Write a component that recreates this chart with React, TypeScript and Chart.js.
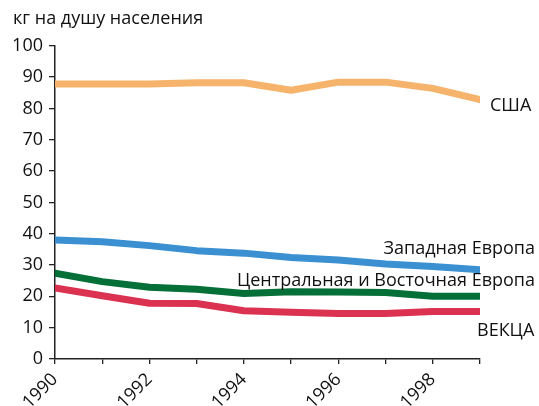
import React, { useEffect, useRef } from "react";
import { Chart, registerables } from "chart.js";

Chart.register(...registerables);

const years = [1990, 1991, 1992, 1993, 1994, 1995, 1996, 1997, 1998, 1999];
const usa = [87.8, 87.8, 87.8, 88.2, 88.2, 85.8, 88.4, 88.4, 86.4, 82.8];
const westEurope = [38.0, 37.4, 36.2, 34.6, 33.8, 32.4, 31.6, 30.3, 29.5, 28.5];
const ceEurope = [27.4, 24.7, 22.9, 22.3, 20.9, 21.5, 21.4, 21.2, 20.0, 20.0];
const eeccaa = [22.7, 20.2, 17.8, 17.7, 15.4, 14.9, 14.5, 14.5, 15.2, 15.2];
const seriesNames = ["США", "Западная Европа", "Центральная и Восточная Европа", "ВЕКЦА"];
const colors = ["#F6B36C", "#3A90D1", "#056F38", "#DC3251"];
const yTitle = "кг на душу населения";

const FONT = "'Open Sans', 'Noto Sans', sans-serif";

export default function App() {
  const ref = useRef<HTMLCanvasElement>(null);
  useEffect(() => {
    document.body.style.margin = "0";
    const all = [usa, westEurope, ceEurope, eeccaa];
    const labelPlugin = {
      id: "seriesLabels",
      afterDatasetsDraw(chart: any) {
        const ctx = chart.ctx;
        const xs = chart.scales.x;
        const ys = chart.scales.y;
        const xEnd = xs.getPixelForValue(years[years.length - 1]);
        const right = chart.width - 4;
        ctx.save();
        ctx.fillStyle = "#111";
        ctx.textBaseline = "middle";
        ctx.textAlign = "left";
        ctx.font = `18px ${FONT}`;
        ctx.fillText(yTitle, 13, 19);
        ctx.fillText(seriesNames[0], xEnd + 10, ys.getPixelForValue(usa[usa.length - 1]) + 6);
        ctx.textAlign = "right";
        ctx.fillText(seriesNames[1], right, ys.getPixelForValue(westEurope[westEurope.length - 1]) - 21);
        ctx.fillText(seriesNames[2], right, ys.getPixelForValue(ceEurope[ceEurope.length - 1]) - 15);
        ctx.textAlign = "left";
        ctx.fillText(seriesNames[3], xEnd - 3, ys.getPixelForValue(eeccaa[eeccaa.length - 1]) + 19);
        ctx.restore();
      },
    };
    const chart = new Chart(ref.current!, {
      type: "line",
      data: {
        datasets: all.map((d, i) => ({
          label: seriesNames[i],
          data: d.map((v, j) => ({ x: years[j], y: v })),
          borderColor: colors[i],
          backgroundColor: colors[i],
          borderWidth: 7,
          pointRadius: 0,
          borderCapStyle: "round",
          borderJoinStyle: "round",
          tension: 0,
        })),
      },
      options: {
        animation: false,
        responsive: false,
        layout: { padding: { left: 0, right: 59, top: 0, bottom: 0 } },
        plugins: {
          legend: { display: false },
          tooltip: { enabled: false },
          title: {
            display: true,
            text: yTitle,
            align: "start",
            color: "rgba(0,0,0,0)",
            font: { family: FONT, size: 19, weight: "normal", lineHeight: 1.2 },
            padding: { top: 7, bottom: 16 },
          },
        },
        scales: {
          x: {
            type: "linear",
            min: 1990,
            max: 1999,
            afterFit: (s: any) => { s.height = 47; },
            ticks: {
              stepSize: 1,
              autoSkip: false,
              maxRotation: 45,
              minRotation: 45,
              color: "#111",
              font: { family: FONT, size: 18 },
              padding: 5,
              callback: (v: any) => (Number(v) % 2 === 0 ? String(v) : ""),
            },
            grid: { drawOnChartArea: false, drawTicks: true, tickLength: 5, color: "#222", lineWidth: 1.3 },
            border: { color: "#222", width: 1.5 },
          },
          y: {
            min: 0,
            max: 100,
            afterFit: (s: any) => { s.width = 55; },
            ticks: {
              stepSize: 10,
              color: "#111",
              font: { family: FONT, size: 18 },
              padding: 6,
            },
            grid: { drawOnChartArea: false, drawTicks: true, tickLength: 6, color: "#222", lineWidth: 1.3 },
            border: { color: "#222", width: 1.5 },
          },
        },
      } as any,
      plugins: [labelPlugin],
    });
    return () => chart.destroy();
  }, []);
  return (
    <div style={{ width: 539, height: 406 }}>
      <canvas ref={ref} width={539} height={406} style={{ display: "block" }} />
    </div>
  );
}
